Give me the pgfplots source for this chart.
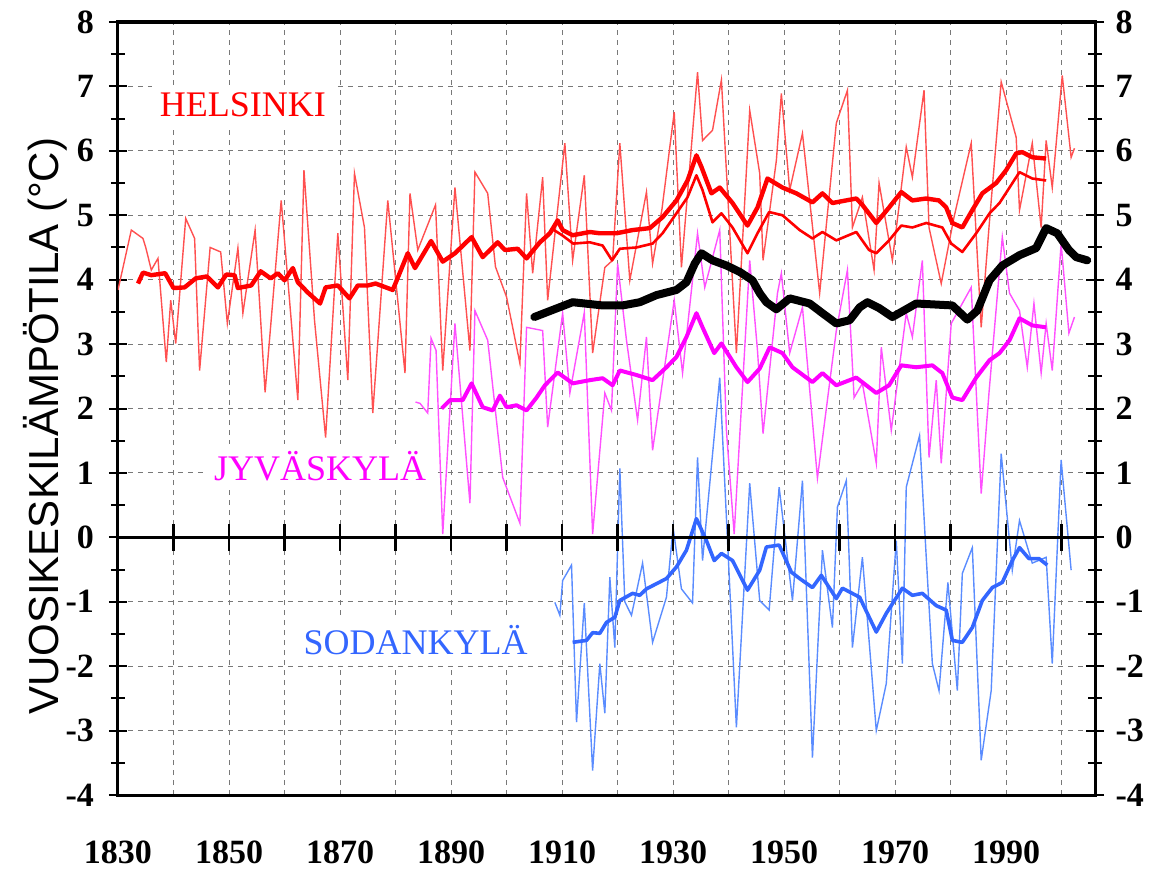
\documentclass[border=0pt]{standalone}
\usepackage{pgfplots}
\pgfplotsset{compat=1.18}
\usepackage{fontspec}
\setmainfont{Liberation Serif}
\newfontfamily\sansf{Liberation Sans}
\definecolor{hred}{RGB}{255,0,0}
\definecolor{hredthin}{RGB}{255,80,80}
\definecolor{jmag}{RGB}{255,0,255}
\definecolor{jmagthin}{RGB}{255,80,255}
\definecolor{sblue}{RGB}{51,102,255}
\definecolor{sbluethin}{RGB}{90,140,255}
\definecolor{gridgray}{RGB}{120,120,120}
\begin{document}
\begin{tikzpicture}
\pgfplotsset{
  common/.style={scale only axis, width=488.5pt, height=386.5pt,
    xmin=1830, xmax=2006, ymin=-4, ymax=8},
  tfont/.style={font=\fontsize{17}{17}\selectfont\bfseries},
}
\begin{axis}[common, name=main,
  axis line style={line width=1.5pt},
  xtick={1830,1840,...,2000},
  xticklabels={1830,,1850,,1870,,1890,,1910,,1930,,1950,,1970,,1990,,},
  xtick style={draw=none},
  xticklabel style={tfont, yshift=-15pt},
  ytick={-4,...,8},
  yticklabels={-4,-3,-2,-1,0,1,2,3,4,5,6,7,8},
  minor y tick num=1,
  ytick pos=both,
  yticklabel style={tfont, xshift=-4pt},
  tick align=center,
  major tick length=9pt, minor tick length=7pt,
  ytick style={line width=1pt, black},
  minor tick style={line width=1pt, black},
  xmajorgrids, ymajorgrids,
  major grid style={gridgray, line width=0.5pt, dash pattern=on 2.5pt off 2.5pt},
  ylabel={\sansf VUOSIKESKILÄMPÖTILA (°C)},
  ylabel style={font=\fontsize{21}{21}\selectfont, at={(axis description cs:-0.0747,0.477)}, anchor=center},
]
% station labels
\node[fill=white, inner sep=4pt, text=hred, font=\fontsize{18}{18}\selectfont] at (axis cs:1852.5,6.71) {HELSINKI};
\node[fill=white, inner sep=4pt, text=jmag, font=\fontsize{18}{18}\selectfont] at (axis cs:1866.4,1.10) {JYVÄSKYLÄ};
\node[fill=white, inner sep=5pt, text=sblue, font=\fontsize{18}{18}\selectfont] at (axis cs:1883.6,-1.60) {SODANKYLÄ};

% Helsinki annual
\addplot[hredthin, line width=0.7pt] coordinates {
(1830,3.84) (1832.4,4.77) (1834.5,4.64) (1835,4.50) (1836,4.15) (1837.2,4.33) (1838.7,2.72) (1839.5,3.68) (1840.4,3.01)
(1842.2,4.95) (1843.8,4.64) (1844.7,2.59) (1846.6,4.50) (1848.5,4.43) (1849.7,3.32) (1851.6,4.49) (1852.5,3.48)
(1854.7,4.77) (1856.5,2.25) (1859.4,5.23) (1862.4,2.13) (1863.5,5.70) (1865.4,3.37) (1867.4,1.55) (1869.6,4.72)
(1871.4,2.44) (1872.6,5.65) (1874.4,4.81) (1875.9,1.93) (1878.6,5.23) (1881.7,2.55) (1882.6,5.34) (1884,4.46)
(1887.2,5.16) (1888.5,2.59) (1890.7,5.43) (1893.4,2.90) (1894.3,5.67) (1896.6,5.34) (1898,4.2) (1900,3.73) (1902.4,2.70)
(1903.6,5.34) (1904.7,4.10) (1906.5,5.59) (1907.4,3.68) (1910.5,6.12) (1911.9,4.30) (1914,5.62) (1915.5,2.86)
(1917.7,4.19) (1919.1,4.30) (1920.4,6.12) (1922.2,3.99) (1925.2,5.36) (1926.3,4.25) (1928,5.1) (1930.2,6.60) (1931.5,4.19)
(1934.4,7.22) (1935.3,6.16) (1937.1,6.32) (1938.7,7.10) (1941.4,2.86) (1943.8,6.63) (1945.6,5.65) (1946.2,4.30)
(1948.6,5.85) (1949.5,6.89) (1951,5.39) (1953.3,6.27) (1956.4,3.79) (1959.4,6.43) (1961.4,6.94) (1962.3,4.81)
(1964.1,5.28) (1966.2,4.15) (1967.1,5.50) (1969.5,4.30) (1972,6.06) (1973.1,5.59) (1975.2,6.94) (1976.1,4.81)
(1978.3,3.94) (1980.6,4.97) (1983.7,6.12) (1985.5,3.26) (1986.9,4.81) (1989.1,7.07) (1991.8,6.21) (1992.4,5.08)
(1994.7,6.12) (1996.3,4.81) (1997.2,6.16) (1998.3,5.43) (2000.1,7.17) (2001.7,5.90) (2002.3,6.04)
};
% Jyvaskyla annual
\addplot[jmagthin, line width=0.7pt] coordinates {
(1883.6,2.10) (1884.4,2.08) (1885.8,1.93) (1886.4,3.09) (1887.3,2.90) (1888.5,0.05) (1890.7,3.32) (1893.4,0.53)
(1894.3,3.52) (1896.6,3.06) (1899.3,0.93) (1902.4,0.22) (1903.6,3.26) (1906.5,3.21) (1907.4,1.71) (1910.1,3.48)
(1911.4,2.24) (1914,3.49) (1915.5,0.05) (1917.7,2.24) (1918.9,1.97) (1920,4.25) (1921.6,3.06) (1923.6,1.82)
(1925.2,3.11) (1926.3,1.35) (1930.2,3.68) (1931.7,2.55) (1934.4,4.72) (1935.7,3.88) (1938.4,4.77) (1939.6,1.66)
(1941,0.05) (1943.8,4.30) (1945.2,2.90) (1946.2,1.61) (1948.8,3.79) (1949.5,4.10) (1951,2.86) (1953.3,3.57)
(1956,0.92) (1959.4,3.21) (1961.4,4.15) (1962.6,2.17) (1964.1,2.39) (1966.6,1.15) (1967.5,2.95) (1969.3,1.66)
(1972,3.48) (1973.1,3.11) (1974.9,4.30) (1976.1,1.24) (1977.4,2.44) (1978.3,1.15) (1980.1,3.32) (1983.7,3.88)
(1985.5,0.68) (1986.9,2.24) (1989.3,4.66) (1990.6,3.79) (1992.4,3.52) (1993.8,2.64) (1995,3.63) (1996.3,2.55)
(1997.2,3.32) (1998.3,2.59) (1999.9,4.56) (2001.3,3.17) (2002.3,3.42)
};
% Sodankyla annual
\addplot[sbluethin, line width=0.7pt] coordinates {
(1908.7,-1.01) (1909.6,-1.21) (1910.1,-0.67) (1911.7,-0.43) (1912.6,-2.87) (1914,-1.02) (1915.5,-3.62) (1916.8,-1.96)
(1917.7,-2.73) (1918.6,-0.62) (1919.5,-1.71) (1920.4,1.07) (1921.3,-1.0) (1922.5,-1.21) (1924.5,-0.40) (1926.3,-1.63)
(1928.8,-0.93) (1930,0.15) (1931.5,-0.8) (1933.5,-1.02) (1934.4,1.24) (1935.3,-0.36) (1938.4,2.48) (1941.4,-2.95)
(1943.8,0.84) (1945.6,-0.98) (1947.3,-1.13) (1949.1,0.78) (1951.5,-0.98) (1953.3,0.88) (1955.1,-3.42) (1956.9,-0.20)
(1958.7,-1.40) (1959.6,0.47) (1961.2,0.88) (1962.3,-1.71) (1964.1,-0.31) (1966.6,-3.0) (1968.4,-2.27) (1970.2,-0.05)
(1971.3,-1.96) (1972,0.78) (1974.4,1.58) (1975.6,-0.31) (1976.7,-1.96) (1977.9,-2.38) (1979.5,-0.7) (1981.2,-2.38)
(1982.1,-0.56) (1983.9,-0.16) (1985.5,-3.46) (1987.3,-2.38) (1989.1,1.30) (1991.1,-0.51) (1992.4,0.26) (1994.7,-0.40)
(1997.2,-0.31) (1998.3,-1.96) (1999.9,1.2) (2001.7,-0.51)
};
% Helsinki smoothed (upper, thick)
\addplot[hred, line width=2.2pt, line join=round] coordinates {
(1833.6,3.94) (1834.5,4.11) (1836,4.07) (1838.5,4.10) (1840,3.87) (1842,3.88) (1844,4.02) (1846,4.05) (1848,3.88)
(1849.5,4.08) (1851,4.07) (1851.6,3.87) (1854,3.91) (1855.7,4.13) (1857.5,4.02) (1858.8,4.10) (1860,3.99) (1861.5,4.18)
(1862.4,3.96) (1864.2,3.80) (1866.4,3.63) (1867.4,3.88) (1869.6,3.91) (1871.7,3.71) (1873.2,3.91) (1875,3.91)
(1876.4,3.94) (1879.5,3.84) (1882.2,4.41) (1883.5,4.18) (1886.4,4.60) (1888.5,4.28) (1890.7,4.41) (1893.7,4.66)
(1895.7,4.35) (1898.4,4.58) (1899.7,4.46) (1902,4.48) (1903.6,4.33) (1906,4.58) (1907.8,4.72) (1909.2,4.92)
(1910.1,4.77) (1911.9,4.69) (1915,4.74) (1916.8,4.72) (1919.8,4.72) (1922.7,4.77) (1925.8,4.80) (1928.1,4.97)
(1930.6,5.23) (1932.6,5.54) (1934.2,5.93) (1935.1,5.75) (1936.9,5.34) (1938.4,5.43) (1940.7,5.19) (1943.4,4.84)
(1945.2,5.12) (1947,5.57) (1949.7,5.43) (1952.2,5.34) (1955.1,5.20) (1956.9,5.34) (1958.7,5.19) (1963,5.26)
(1964.1,5.16) (1966.6,4.88) (1968.9,5.12) (1971.1,5.36) (1973.1,5.23) (1975.6,5.26) (1977.9,5.23) (1979.2,5.12)
(1980.3,4.88) (1982.1,4.81) (1983.9,5.08) (1985.7,5.34) (1988.2,5.50) (1990,5.70) (1991.8,5.96) (1992.9,5.98)
(1994.7,5.90) (1997.2,5.88)
};
% Helsinki smoothed (lower)
\addplot[hred, line width=1.3pt, line join=round] coordinates {
(1908,4.80) (1910,4.69) (1912,4.56) (1915,4.58) (1917.3,4.53) (1919,4.30) (1920.4,4.48) (1923.4,4.50) (1926.3,4.56)
(1928.1,4.72) (1930.6,5.03) (1932.6,5.28) (1934.2,5.62) (1935.3,5.39) (1937.1,4.89) (1938.7,5.03) (1940.7,4.81)
(1943.4,4.41) (1945.2,4.72) (1947.3,5.05) (1949.7,5.00) (1952.8,4.77) (1955.1,4.64) (1956.9,4.74) (1959.4,4.61)
(1963,4.74) (1965.3,4.46) (1966.6,4.41) (1968.9,4.61) (1971.1,4.84) (1973.1,4.81) (1975.6,4.88) (1978.5,4.81)
(1980.1,4.56) (1982.1,4.43) (1984.6,4.72) (1987,5.03) (1988.8,5.19) (1990.6,5.43) (1992.4,5.67) (1994.7,5.57)
(1997.2,5.54)
};
% Jyvaskyla smoothed
\addplot[jmag, line width=2pt, line join=round] coordinates {
(1888.3,2.00) (1889.8,2.13) (1892.1,2.13) (1893.7,2.39) (1895.7,2.02) (1897.5,1.97) (1898.8,2.20) (1900,2.02)
(1901.8,2.05) (1903.6,1.97) (1905.4,2.17) (1906.9,2.36) (1909.2,2.56) (1911.9,2.39) (1915,2.44) (1917.3,2.47)
(1919.1,2.36) (1920.4,2.59) (1923.4,2.52) (1926.3,2.44) (1928.8,2.64) (1930.6,2.80) (1932.4,3.11) (1934.2,3.48)
(1935.3,3.26) (1937.4,2.86) (1938.7,3.01) (1941.4,2.64) (1943.4,2.41) (1945.6,2.62) (1947.4,2.95) (1949.7,2.86)
(1951.5,2.64) (1955.1,2.41) (1956.9,2.55) (1959.4,2.36) (1963,2.48) (1966.6,2.24) (1968.9,2.36) (1971.1,2.67)
(1973.8,2.64) (1976.7,2.67) (1978.5,2.55) (1980.3,2.17) (1982.1,2.13) (1984.6,2.48) (1987,2.75) (1988.8,2.86)
(1990.6,3.06) (1992.4,3.40) (1994.7,3.29) (1997.2,3.26)
};
% Sodankyla smoothed
\addplot[sblue, line width=1.8pt, line join=round] coordinates {
(1911.9,-1.63) (1914.4,-1.60) (1915.5,-1.48) (1916.8,-1.49) (1918,-1.32) (1919.5,-1.24) (1920.4,-0.98) (1922.7,-0.87)
(1924,-0.90) (1925.2,-0.80) (1927,-0.72) (1928.8,-0.64) (1930.6,-0.46) (1932.4,-0.20) (1934.2,0.29) (1936,-0.05)
(1937.4,-0.36) (1938.7,-0.25) (1940.7,-0.36) (1943.4,-0.82) (1945.6,-0.51) (1946.8,-0.15) (1949.1,-0.12)
(1951.3,-0.54) (1952.8,-0.64) (1955.1,-0.78) (1956.7,-0.59) (1959.4,-0.95) (1960.5,-0.79) (1963.6,-0.93)
(1966.6,-1.47) (1968.4,-1.18) (1971.3,-0.79) (1973.1,-0.90) (1974.9,-0.87) (1977.4,-1.06) (1979.2,-1.13)
(1980.3,-1.60) (1982.1,-1.63) (1983.9,-1.40) (1985.7,-0.98) (1987.5,-0.78) (1989.3,-0.70) (1991.1,-0.36)
(1992.4,-0.16) (1994.1,-0.33) (1995.9,-0.33) (1997.4,-0.43)
};
% black line
\addplot[black, line width=4pt, line join=round, line cap=round] coordinates {
(1905,3.42) (1911.9,3.65) (1917.3,3.60) (1920.9,3.60) (1924,3.65) (1927,3.76) (1930.6,3.84) (1932.4,3.96)
(1933.9,4.25) (1935.1,4.41) (1937.1,4.30) (1939.6,4.22) (1942,4.12) (1944.3,3.99) (1945.6,3.79) (1946.8,3.65)
(1948.6,3.54) (1951,3.71) (1954.6,3.63) (1956.9,3.48) (1959.4,3.32) (1961.8,3.37) (1963.6,3.57) (1965,3.65)
(1967.1,3.56) (1969.5,3.42) (1973.8,3.63) (1980.3,3.60) (1983,3.38) (1984.8,3.52) (1987,3.99) (1989.3,4.22)
(1992.4,4.38) (1995.4,4.49) (1997.2,4.80) (1999.2,4.72) (2001.3,4.46) (2002.6,4.35) (2004.6,4.30)
};
\end{axis}
\begin{axis}[common,
  axis x line=middle, axis y line*=right,
  x axis line style={-, line width=1.5pt},
  y axis line style={-, line width=1.5pt},
  xtick={1840,1850,...,2000}, xticklabels={},
  tick align=center, major tick length=13.5pt,
  xtick style={line width=1.25pt, black},
  ytick={-4,...,8},
  yticklabels={-4,-3,-2,-1,0,1,2,3,4,5,6,7,8},
  ytick style={draw=none},
  yticklabel style={tfont},
]
\end{axis}
\pgfresetboundingbox
\path ([shift={(-59pt,-37pt)}]main.south west) rectangle ([shift={(29pt,11pt)}]main.north east);
\end{tikzpicture}
\end{document}
